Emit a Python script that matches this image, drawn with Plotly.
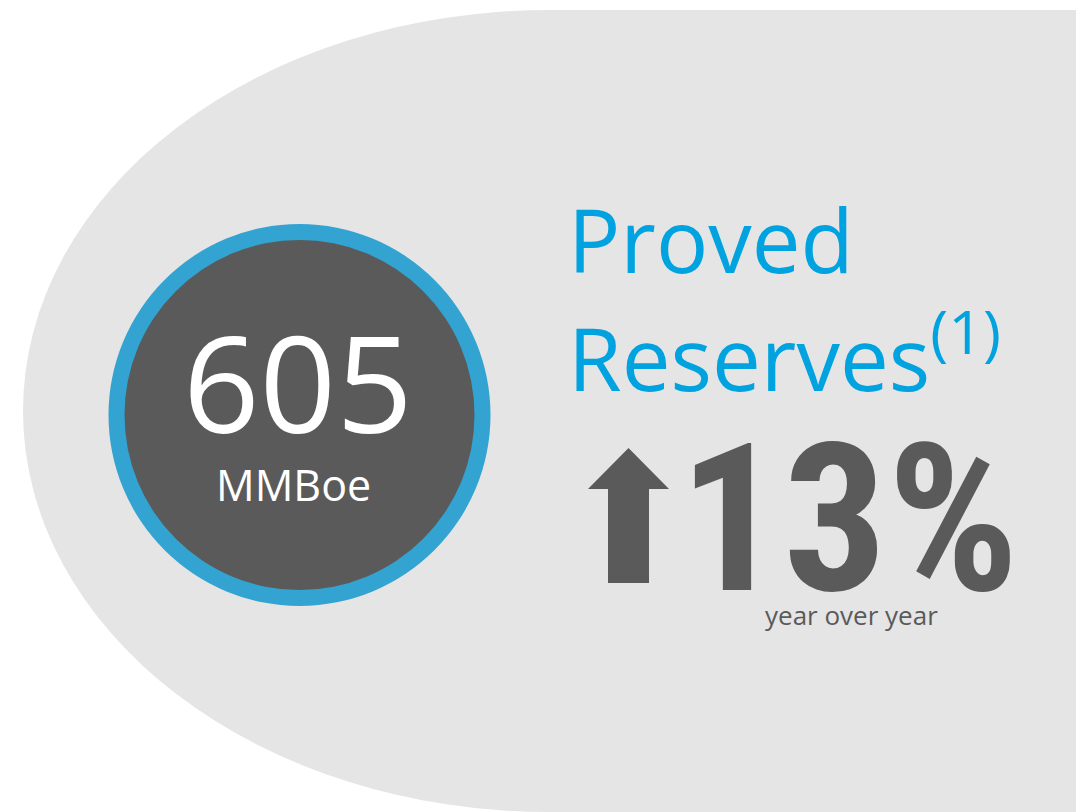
import plotly.graph_objects as go

# ---- content ----
value_text = ["605"]
unit_text = ["MMBoe"]
title_lines = ["Proved", "Reserves"]
footnote_mark = ["(1)"]
change_text = ["13%"]
change_caption = ["year over year"]

W, H = 1076, 812
GREY_BG = "#e5e5e5"
RING = "#33a3d1"
DARK = "#5a5a5a"
BLUE = "#00a3e0"

fig = go.Figure()
fig.add_trace(go.Scatter(x=[0, W], y=[0, H], mode="markers",
                         marker=dict(opacity=0), hoverinfo="skip", showlegend=False))

shapes = []
shapes.append(dict(type="circle", xref="x", yref="y", x0=23, x1=1075, y0=10, y1=812,
                   fillcolor=GREY_BG, line=dict(width=0), layer="below"))
shapes.append(dict(type="rect", xref="x", yref="y", x0=549, x1=W + 5, y0=10, y1=H + 5,
                   fillcolor=GREY_BG, line=dict(width=0), layer="below"))
cx, cy = 299.5, 415
shapes.append(dict(type="circle", xref="x", yref="y", x0=cx - 191, x1=cx + 191,
                   y0=cy - 191, y1=cy + 191, fillcolor=RING, line=dict(width=0), layer="below"))
shapes.append(dict(type="circle", xref="x", yref="y", x0=cx - 175, x1=cx + 175,
                   y0=cy - 175, y1=cy + 175, fillcolor=DARK, line=dict(width=0), layer="below"))
shapes.append(dict(type="path", xref="x", yref="y",
                   path="M 588,489 L 628.5,448 L 669,489 L 649,489 L 649,583 L 608,583 L 608,489 Z",
                   fillcolor=DARK, line=dict(width=0)))
fig.update_layout(shapes=shapes)

ann = []
ann.append(dict(x=297.5, y=381, text=value_text[0], xanchor="center", yanchor="middle",
                font=dict(family="Open Sans", size=134, color="white")))
ann.append(dict(x=293.5, y=484, text=unit_text[0], xanchor="center", yanchor="middle",
                font=dict(family="Open Sans", size=43, color="white")))
ann.append(dict(x=566, y=239, text=title_lines[0], xanchor="left", yanchor="middle",
                font=dict(family="Open Sans", size=87, color=BLUE)))
ann.append(dict(x=566, y=352, text=title_lines[1] + "<sup>" + footnote_mark[0] + "</sup>",
                xanchor="left", yanchor="middle",
                font=dict(family="Open Sans", size=87, color=BLUE)))
ann.append(dict(x=677, y=519, text="<b>" + change_text[0] + "</b>", xanchor="left", yanchor="middle",
                font=dict(family="Roboto Condensed, Roboto, sans-serif", size=206, color=DARK)))
ann.append(dict(x=851.5, y=615, text=change_caption[0], xanchor="center", yanchor="middle",
                font=dict(family="Open Sans", size=26, color=DARK)))
for a in ann:
    a.update(xref="x", yref="y", showarrow=False)
fig.update_layout(annotations=ann)

fig.update_layout(
    width=W, height=H, margin=dict(l=0, r=0, t=0, b=0),
    paper_bgcolor="white", plot_bgcolor="white",
    xaxis=dict(range=[0, W], visible=False, fixedrange=True),
    yaxis=dict(range=[H, 0], visible=False, fixedrange=True),
    showlegend=False,
)
fig.write_html("out.html", config={"displayModeBar": False},
               post_script="document.body.style.margin='0';")
